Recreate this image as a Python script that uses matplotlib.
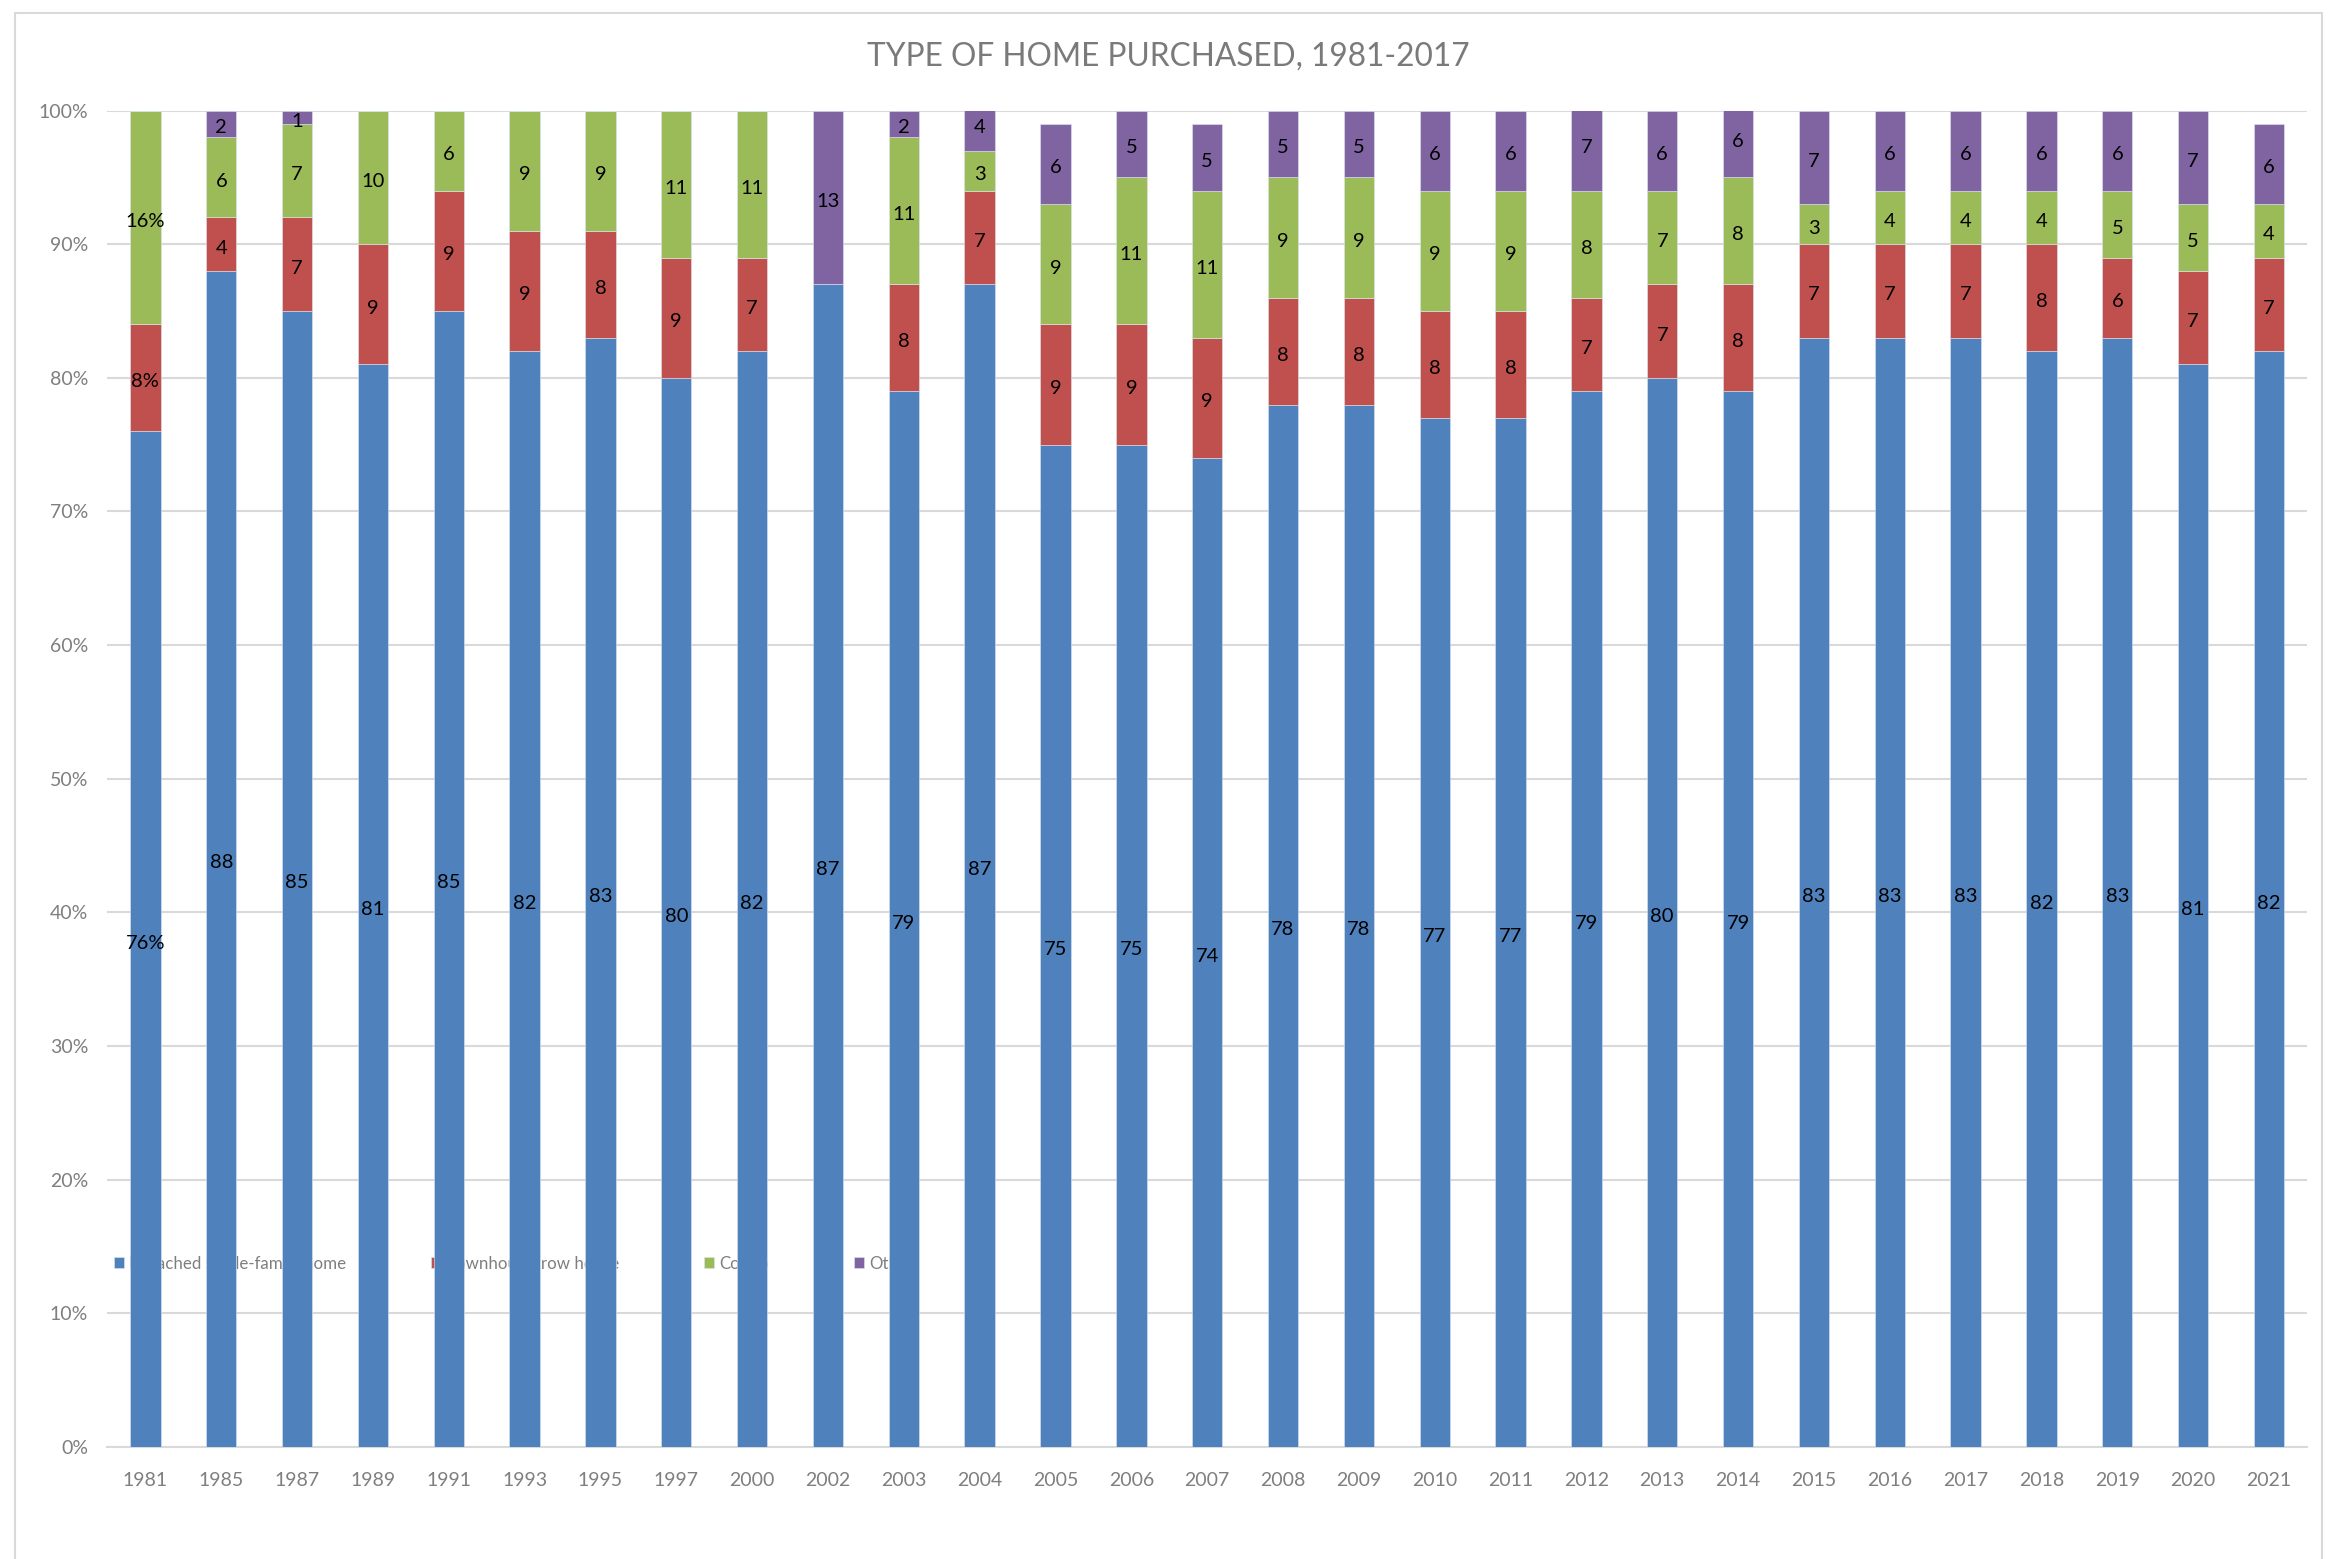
import matplotlib
matplotlib.use("Agg")
import matplotlib.pyplot as plt
from matplotlib.patches import Rectangle
import numpy as np

years = ["1981", "1985", "1987", "1989", "1991", "1993", "1995", "1997", "2000", "2002",
         "2003", "2004", "2005", "2006", "2007", "2008", "2009", "2010", "2011", "2012",
         "2013", "2014", "2015", "2016", "2017", "2018", "2019", "2020", "2021"]
detached = [76, 88, 85, 81, 85, 82, 83, 80, 82, 87, 79, 87, 75, 75, 74, 78, 78, 77, 77, 79,
            80, 79, 83, 83, 83, 82, 83, 81, 82]
townhouse = [8, 4, 7, 9, 9, 9, 8, 9, 7, 0, 8, 7, 9, 9, 9, 8, 8, 8, 8, 7,
             7, 8, 7, 7, 7, 8, 6, 7, 7]
condo = [16, 6, 7, 10, 6, 9, 9, 11, 11, 0, 11, 3, 9, 11, 11, 9, 9, 9, 9, 8,
         7, 8, 3, 4, 4, 4, 5, 5, 4]
other = [0, 2, 1, 0, 0, 0, 0, 0, 0, 13, 2, 4, 6, 5, 5, 5, 5, 6, 6, 7,
         6, 6, 7, 6, 6, 6, 6, 7, 6]
series_names = ["Detached single-family home", "Townhouse/row house", "Condo", "Other"]
colors = ["#4F81BD", "#C0504D", "#9BBB59", "#8064A2"]
pct_label_years = ["1981"]

plt.rcParams['font.family'] = ['Lato', 'DejaVu Sans']

fig = plt.figure(figsize=(23.42, 15.59), dpi=100)
fig.patches.append(Rectangle((15/2342, -0.1), (2322-15)/2342, 1.1 - 13/1559,
                             transform=fig.transFigure, fill=False,
                             edgecolor="#D9D9D9", linewidth=1.5))
ax = fig.add_axes([0.0459, 0.0719, 0.9391, 0.8572])

x = np.arange(len(years))
bottom = np.zeros(len(years))
data = [detached, townhouse, condo, other]
for vals, name, col in zip(data, series_names, colors):
    vals = np.array(vals, dtype=float)
    ax.bar(x, vals, 0.4, bottom=bottom, color=col, label=name, zorder=3,
           edgecolor="#DCE6F2", linewidth=0.4)
    for i, v in enumerate(vals):
        if v > 0:
            txt = f"{int(v)}%" if years[i] in pct_label_years else f"{int(v)}"
            ax.text(x[i], bottom[i] + v / 2 - 0.3, txt, ha="center", va="center",
                    fontsize=14.5, color="black", zorder=4)
    bottom += vals

ax.set_xlim(-0.5, len(years) - 0.5)
ax.set_ylim(0, 100)
ax.set_yticks(np.arange(0, 101, 10))
ax.set_yticklabels([f"{v}%" for v in range(0, 101, 10)])
ax.set_xticks(x)
ax.set_xticklabels(years)
ax.tick_params(axis="both", length=0, labelsize=14, colors="#7F7F7F")
ax.tick_params(axis="y", pad=14)
ax.tick_params(axis="x", pad=18)
ax.grid(axis="y", color="#D9D9D9", linewidth=1.5, zorder=0)
ax.set_axisbelow(True)
for s in ["top", "right", "left"]:
    ax.spines[s].set_visible(False)
ax.spines["bottom"].set_color("#D9D9D9")
ax.spines["bottom"].set_linewidth(1.5)

leg = ax.legend(loc="center left", bbox_to_anchor=(-0.004, 0.137), ncol=4, frameon=False,
                fontsize=12.2, labelcolor="#7F7F7F", handlelength=0.6, handleheight=0.6,
                handletextpad=0.3, columnspacing=5.0)
leg.set_zorder(1)

fig.text(1168/2342, 1 - 57/1559, "TYPE OF HOME PURCHASED, 1981-2017", ha="center",
         va="center", fontsize=22.8, color="#7A7A7A")

fig.savefig("out.png", dpi=100)
